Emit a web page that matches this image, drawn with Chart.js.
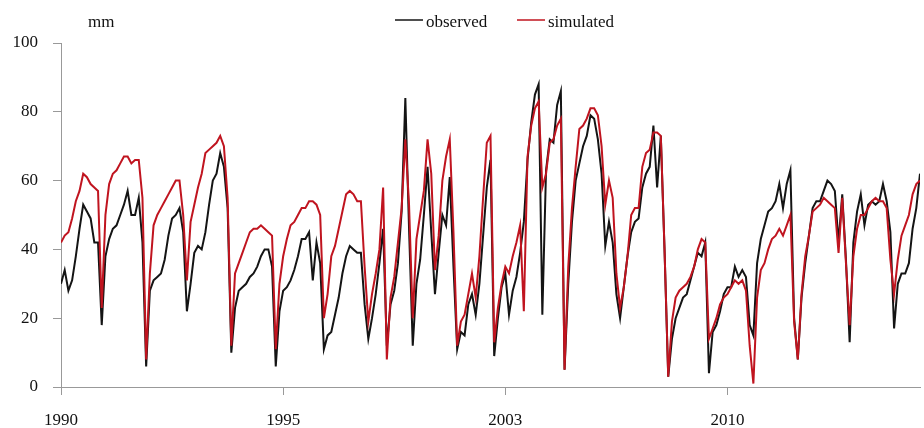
<!DOCTYPE html>
<html>
<head>
<meta charset="utf-8">
<script src="https://cdn.jsdelivr.net/npm/chart.js@4.4.1/dist/chart.umd.min.js"></script>
<style>
html,body{margin:0;padding:0;background:#fff;}
#wrap{width:924px;height:428px;position:relative;}
</style>
</head>
<body>
<div id="wrap"><canvas id="flowChart" width="924" height="428"></canvas></div>
<script>
// monthly values, mm
const observed = [
  30,34,28,31,38,46,53,51,49,42,42,18,
  38,43,46,47,50,53,57,50,50,55,42,6,
  28,31,32,33,37,44,49,50,52,45,22,30,
  39,41,40,45,53,60,62,68,64,52,10,23,
  28,29,30,32,33,35,38,40,40,35,6,22,
  28,29,31,34,38,43,43,45,31,42,36,11,
  15,16,21,26,33,38,41,40,39,39,24,14,
  20,27,36,46,12,24,28,36,51,84,46,12,
  30,37,50,64,45,27,39,50,47,61,35,11,
  16,15,24,27,21,30,44,58,66,9,20,29,
  33,21,28,32,39,48,66,77,85,88,21,63,
  72,71,82,86,5,30,48,60,65,70,73,79,
  78,72,62,41,48,42,27,20,29,38,45,48,
  49,58,62,64,76,58,73,40,3,14,20,23,
  26,27,31,35,39,38,42,4,16,18,22,27,
  29,29,35,32,34,32,18,15,36,43,47,51,
  52,54,59,52,59,63,20,8,26,36,44,52,
  54,54,57,60,59,57,42,56,37,13,42,51,
  56,47,53,54,53,54,59,54,45,17,30,33,
  33,36,46,52,62
];
const simulated = [
  42,44,45,49,54,57,62,61,59,58,57,23,
  50,59,62,63,65,67,67,65,66,66,55,8,
  33,47,50,52,54,56,58,60,60,50,31,48,
  53,58,62,68,69,70,71,73,70,55,12,33,
  36,39,42,45,46,46,47,46,45,44,11,30,
  38,43,47,48,50,52,52,54,54,53,50,20,
  27,38,41,46,51,56,57,56,54,54,35,19,
  27,33,40,58,8,26,32,42,52,72,53,20,
  43,50,57,72,62,34,44,60,67,72,45,12,
  19,21,27,33,26,38,55,71,73,13,23,30,
  35,33,38,42,47,22,67,76,81,83,58,62,
  71,72,76,78,5,35,52,64,75,76,78,81,
  81,79,70,53,60,55,33,23,29,38,50,52,
  52,64,68,69,74,74,73,40,3,19,26,28,
  29,30,32,35,40,43,42,14,17,20,24,26,
  27,29,31,30,31,28,12,1,26,34,36,40,
  43,44,46,44,47,50,19,8,27,38,44,51,
  52,53,55,54,53,52,39,55,36,18,38,46,
  50,50,52,54,55,54,54,52,37,27,37,44,
  47,50,56,59,60
];
const seriesNames = ['observed', 'simulated'];
const seriesColors = ['#141414', '#c0141f'];
const tickMonths = [0, 60, 120, 180];
const tickLabels = ['1990', '1995', '2003', '2010'];
const unitLabel = 'mm';

const FONT = '"Liberation Serif", "Times New Roman", serif';

// unit label and legend drawn on top of the canvas
const headerPlugin = {
  id: 'header',
  afterDraw(chart){
    const ctx = chart.ctx;
    ctx.save();
    ctx.font = '17px ' + FONT;
    ctx.fillStyle = '#111';
    ctx.textBaseline = 'alphabetic';
    ctx.fillText(unitLabel, 88, 27);
    const lineStarts = [395, 517];
    seriesNames.forEach((name, i)=>{
      const x = lineStarts[i];
      ctx.strokeStyle = seriesColors[i];
      ctx.lineWidth = 1.5;
      ctx.beginPath();
      ctx.moveTo(x, 20);
      ctx.lineTo(x + 28, 20);
      ctx.stroke();
      ctx.fillText(name, x + 31, 27);
    });
    ctx.restore();
  }
};

function toPoints(values){
  return values.map((y, i)=>({x: i, y}));
}

const ctx = document.getElementById('flowChart').getContext('2d');
new Chart(ctx, {
  type: 'line',
  data: {
    datasets: [
      {label: seriesNames[0], data: toPoints(observed), borderColor: seriesColors[0], backgroundColor: seriesColors[0], borderWidth: 2, pointRadius: 0, tension: 0, order: 1},
      {label: seriesNames[1], data: toPoints(simulated), borderColor: seriesColors[1], backgroundColor: seriesColors[1], borderWidth: 2, pointRadius: 0, tension: 0, order: 0}
    ]
  },
  options: {
    responsive: false,
    animation: false,
    layout: {padding: {top: 43, left: 12, right: 4, bottom: 0}},
    plugins: {legend: {display: false}, tooltip: {enabled: false}},
    scales: {
      x: {
        type: 'linear',
        min: 0,
        max: observed.length - 1,
        afterBuildTicks: axis => { axis.ticks = tickMonths.map(v => ({value: v})); },
        afterFit: axis => { axis.height = 41; },
        ticks: {
          autoSkip: false,
          maxRotation: 0,
          padding: 15,
          color: '#111',
          font: {family: FONT, size: 17},
          callback: value => tickLabels[tickMonths.indexOf(value)]
        },
        grid: {drawOnChartArea: false, drawTicks: true, tickLength: 8, color: '#999'},
        border: {display: true, color: '#999', width: 1}
      },
      y: {
        min: 0,
        max: 100,
        afterFit: axis => { axis.width = 49; },
        ticks: {stepSize: 20, padding: 15, color: '#111', font: {family: FONT, size: 17}},
        grid: {drawOnChartArea: false, drawTicks: true, tickLength: 8, color: '#999'},
        border: {display: true, color: '#999', width: 1}
      }
    }
  },
  plugins: [headerPlugin]
});
</script>
</body>
</html>
